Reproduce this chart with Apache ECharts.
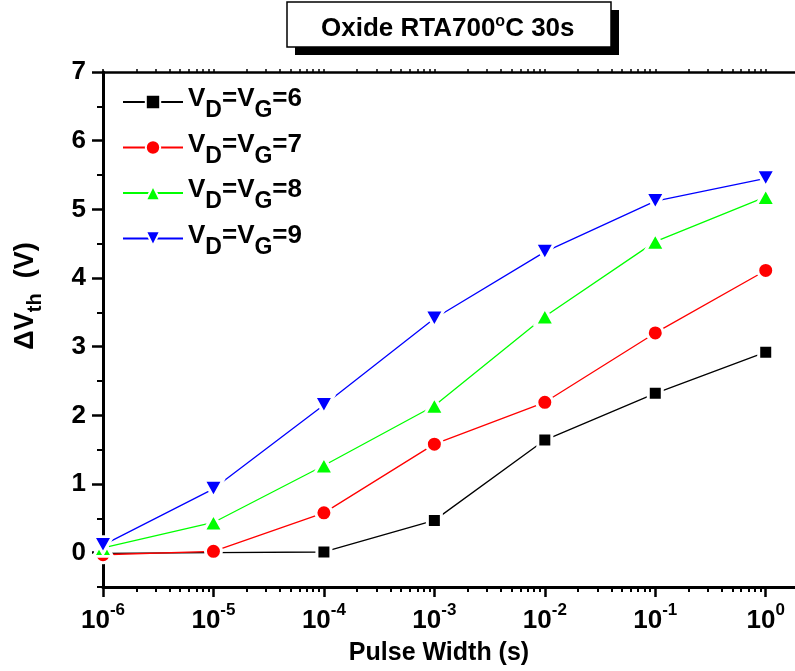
<!DOCTYPE html>
<html>
<head>
<meta charset="utf-8">
<title>Oxide RTA700°C 30s</title>
<script src="https://cdn.jsdelivr.net/npm/echarts@6/dist/echarts.min.js"></script>
<style>
  html, body { margin: 0; padding: 0; background: #fff; }
  #chart { width: 795px; height: 671px; }
</style>
</head>
<body>
<div id="chart"></div>
<script>
// Threshold-voltage shift versus stress pulse width, one curve per stress bias
const pulseWidth = [1e-6, 1e-5, 1e-4, 1e-3, 1e-2, 1e-1, 1];   // seconds
const dVth6 = [-0.01, 0.00, 0.01, 0.47, 1.64, 2.32, 2.92];
const dVth7 = [-0.03, 0.02, 0.58, 1.58, 2.19, 3.20, 4.11];
const dVth8 = [0.07, 0.44, 1.27, 2.14, 3.44, 4.53, 5.18];
const dVth9 = [0.11, 0.93, 2.15, 3.41, 4.38, 5.12, 5.45];
const biasLabels = ['6', '7', '8', '9'];

// Axis ticks: decades on x (as log10 exponents), integers on y
const xDecades = [-6, -5, -4, -3, -2, -1, 0];
const yTicks = [0, 1, 2, 3, 4, 5, 6, 7];
const yMinorTicks = [-0.5, 0.5, 1.5, 2.5, 3.5, 4.5, 5.5, 6.5];

const X_MIN = -6, X_MAX = 0.265;
const Y_MIN = -0.5, Y_MAX = 7;
const FONT = '"Liberation Sans", Arial, Helvetica, sans-serif';

// log-spaced minor ticks (2..9 x 10^n), expressed as exponents
const xMinor = [];
for (let n = -6; n <= 0; n++) {
  for (let k = 2; k <= 9; k++) {
    const v = n + Math.log10(k);
    if (v <= X_MAX) xMinor.push(v);
  }
}
const xAll = xDecades.concat(xMinor);

const toPoints = vals => pulseWidth.map((t, i) => [Math.log10(t), vals[i]]);

const seriesDefs = [
  { vals: dVth6, color: '#000000', symbol: 'rect', size: 14, rotate: 0 },
  { vals: dVth7, color: '#ff0000', symbol: 'circle', size: 16, rotate: 0 },
  { vals: dVth8, color: '#00ff00', symbol: 'triangle', size: [19, 17], rotate: 0 },
  { vals: dVth9, color: '#0000ff', symbol: 'triangle', size: [19, 17], rotate: 180 }
];

const seriesNames = biasLabels.map(b => 'VD=VG=' + b);

const series = seriesDefs.map((d, i) => ({
  name: seriesNames[i],
  type: 'line',
  xAxisIndex: 0,
  yAxisIndex: 0,
  data: toPoints(d.vals),
  symbol: d.symbol,
  symbolSize: d.size,
  symbolRotate: d.rotate,
  showAllSymbol: true,
  lineStyle: { color: d.color, width: 1.3 },
  itemStyle: { color: d.color, borderColor: '#ffffff', borderWidth: 3 },
  emphasis: { disabled: true },
  animation: false,
  z: 2 + i
}));

const baseAxis = {
  type: 'value',
  min: X_MIN,
  max: X_MAX,
  splitLine: { show: false },
  axisLine: { onZero: false, show: false },
  axisTick: { show: false },
  axisLabel: { show: false }
};

const chart = echarts.init(document.getElementById('chart'), null, { renderer: 'canvas' });

chart.setOption({
  backgroundColor: '#ffffff',
  animation: false,
  title: {
    text: '{t|Oxide RTA700}{o|o}{t|C 30s}',
    left: 321,
    top: 14,
    padding: 0,
    z: 10,
    textStyle: {
      rich: {
        t: { fontFamily: FONT, fontWeight: 'bold', fontSize: 26, color: '#000' },
        o: { fontFamily: FONT, fontWeight: 'bold', fontSize: 16, color: '#000', padding: [0, 0, 13, 0] }
      }
    }
  },
  legend: {
    orient: 'vertical',
    left: 122,
    top: 86,
    padding: 0,
    itemWidth: 60,
    itemHeight: 18,
    itemGap: 9,
    selectedMode: false,
    data: seriesNames,
    formatter: name => {
      const b = name.split('=')[2];
      return '{v|V}{d|D}{v|=V}{d|G}{v|=' + b + '}';
    },
    textStyle: {
      color: '#000',
      rich: {
        v: { fontFamily: FONT, fontWeight: 'bold', fontSize: 26, color: '#000', padding: [0, 0, 6, 0] },
        d: { fontFamily: FONT, fontWeight: 'bold', fontSize: 23, color: '#000', padding: [18, 0, 0, 0] }
      }
    }
  },
  grid: { left: 103, right: 0, top: 72, bottom: 84, containLabel: false },
  xAxis: [
    Object.assign({}, baseAxis, {
      position: 'bottom',
      name: 'Pulse Width (s)',
      nameLocation: 'middle',
      nameGap: 54,
      nameTextStyle: { fontFamily: FONT, fontWeight: 'bold', fontSize: 25, color: '#000', padding: [0, 20, 0, 0] },
      axisLine: { show: true, onZero: false, lineStyle: { color: '#000', width: 3 } },
      axisTick: { show: true, inside: false, length: 10, customValues: xDecades, lineStyle: { color: '#000', width: 2.5 } },
      axisLabel: {
        show: true,
        margin: 15,
        customValues: xDecades,
        formatter: v => '{b|10}{s|' + Math.round(v) + '}',
        rich: {
          b: { fontFamily: FONT, fontWeight: 'bold', fontSize: 26, color: '#000' },
          s: { fontFamily: FONT, fontWeight: 'bold', fontSize: 17, color: '#000', padding: [0, 0, 20, 0] }
        }
      }
    }),
    Object.assign({}, baseAxis, {
      position: 'bottom',
      axisTick: { show: true, inside: false, length: 5, customValues: xMinor, lineStyle: { color: '#000', width: 2 } }
    }),
    Object.assign({}, baseAxis, {
      position: 'top',
      axisLine: { show: true, onZero: false, lineStyle: { color: '#000', width: 2.5 } },
      axisTick: { show: true, inside: false, length: 3, customValues: xAll, lineStyle: { color: '#000', width: 1.5 } }
    })
  ],
  yAxis: [
    {
      type: 'value',
      position: 'left',
      min: Y_MIN,
      max: Y_MAX,
      splitLine: { show: false },
      axisLine: { show: true, onZero: false, lineStyle: { color: '#000', width: 3 } },
      axisTick: { show: true, inside: false, length: 11, customValues: yTicks, lineStyle: { color: '#000', width: 2.5 } },
      axisLabel: {
        show: true,
        margin: 17,
        customValues: yTicks,
        fontFamily: FONT,
        fontWeight: 'bold',
        fontSize: 26,
        color: '#000'
      }
    },
    {
      type: 'value',
      position: 'left',
      min: Y_MIN,
      max: Y_MAX,
      splitLine: { show: false },
      axisLine: { show: false, onZero: false },
      axisTick: { show: true, inside: false, length: 6, customValues: yMinorTicks, lineStyle: { color: '#000', width: 2 } },
      axisLabel: { show: false }
    }
  ],
  graphic: [
    // title frame: solid drop shadow, then the white box with outline
    {
      type: 'rect',
      silent: true,
      z: 1,
      shape: { x: 295, y: 10, width: 324, height: 45 },
      style: { fill: '#000' }
    },
    {
      type: 'rect',
      silent: true,
      z: 2,
      shape: { x: 287, y: 2, width: 324, height: 45 },
      style: { fill: '#fff', stroke: '#000', lineWidth: 1.5 }
    },
    {
      type: 'text',
      x: 26,
      y: 296,
      rotation: Math.PI / 2,
      silent: true,
      style: {
        text: '{m|\u0394V}{s|th}{m|  (V)}',
        align: 'center',
        verticalAlign: 'middle',
        fill: '#000',
        rich: {
          m: { fontFamily: FONT, fontWeight: 'bold', fontSize: 27, fill: '#000' },
          s: { fontFamily: FONT, fontWeight: 'bold', fontSize: 20, fill: '#000', padding: [18, 0, 0, 0] }
        }
      }
    }
  ],
  series: series
});
</script>
</body>
</html>
